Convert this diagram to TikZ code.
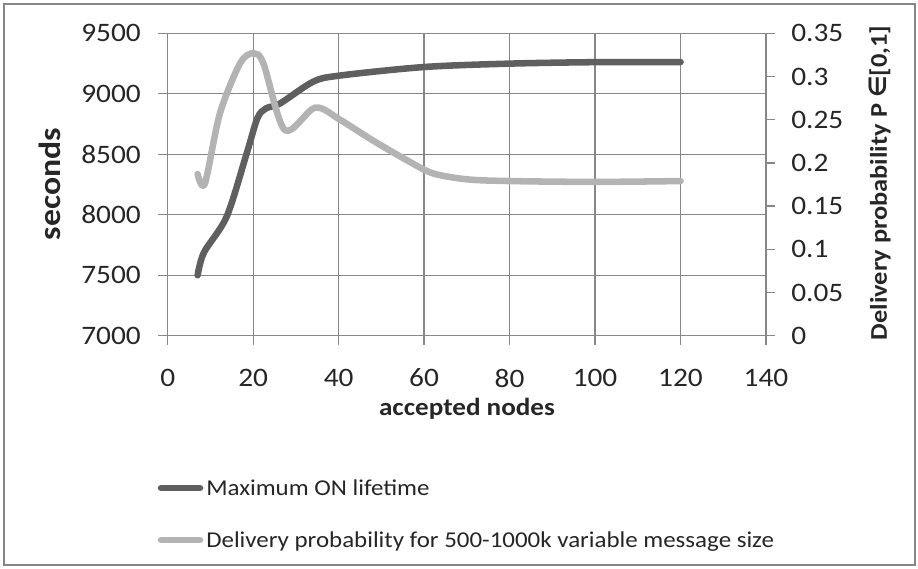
\documentclass[tikz,border=0pt]{standalone}
\usepackage{fontspec}
\setmainfont{Carlito}[FakeStretch=1.1]
\newfontfamily\symfont{DejaVu Sans}
\definecolor{gridgray}{HTML}{878787}
\definecolor{ondark}{HTML}{5F5F5F}
\definecolor{problight}{HTML}{B3B3B3}
\definecolor{labeltext}{HTML}{262626}
\tikzset{
  grid line/.style={gridgray, line width=1pt},
  series/.style={line width=4.9pt, line cap=round, line join=round},
  tick label/.style={text=labeltext, font=\fontsize{20}{24}\selectfont, inner sep=0pt},
  axis title/.style={text=labeltext, font=\bfseries\fontsize{18.5}{22}\selectfont, inner sep=0pt},
  legend label/.style={text=labeltext, font=\fontsize{17}{20}\selectfont, inner sep=0pt, anchor=base west},
}
\begin{document}
\begin{tikzpicture}[x=0.75pt, y=-0.75pt]
\useasboundingbox (0,0) rectangle (918,568);
\draw[gridgray, line width=1pt] (4,4) rectangle (915,565);
% horizontal grid and left labels
\foreach \k [evaluate=\k as \v using int(7000+500*\k)] in {0,...,5}
{
\draw[grid line] (158,{335.7-60.48*\k}) -- (766,{335.7-60.48*\k});
\node[tick label, anchor=east] (sec\k) at (141,{335.7-60.48*\k}) {\v};
}
% vertical grid and bottom labels
\foreach \k [evaluate=\k as \v using int(20*\k)] in {0,...,7}
{
\draw[grid line] ({167.7+85.47*\k},33.3) -- ({167.7+85.47*\k},345);
\node[tick label] (acc\k) at ({167.7+85.47*\k},378) {\v};
}
% right axis ticks and labels
\foreach \k/\p in {0/0,1/0.05,2/0.1,3/0.15,4/0.2,5/0.25,6/0.3,7/0.35}
{
\draw[grid line] (766,{335.7-43.2*\k}) -- (775,{335.7-43.2*\k});
\node[tick label, anchor=west] (prob\k) at (791,{335.7-43.2*\k}) {\p};
}
% axis titles
\node[axis title] (xtitle) at (467,409) {accepted nodes};
\node[axis title, rotate=90, font=\bfseries\fontsize{23}{26}\selectfont] (ytitle) at (50,184) {seconds};
\node[axis title, rotate=90, font=\bfseries\fontsize{18}{22}\selectfont] (ptitle) at (880,183) {Delivery probability P {\symfont\bfseries ∈}[0,1]};
% series
\begin{scope}[shift={(167.7,335.7)}, x=3.2055pt, y=0.09072pt, yshift=-635.04pt]
\draw[series, ondark] plot[smooth, tension=0.5] coordinates {(7,7500) (8.5,7690) (13.8,7985) (18.5,8510) (21,8800) (23,8880) (26.3,8921) (34,9100) (40,9150) (60,9222) (80,9250) (100,9262) (120,9263)};
\end{scope}
\begin{scope}[shift={(167.7,335.7)}, x=3.2055pt, y=648pt]
\draw[series, problight] plot[smooth, tension=0.5] coordinates {(7,0.187) (8.7,0.176) (12.2,0.257) (16.9,0.315) (20,0.327) (22.4,0.315) (27.4,0.238) (34.5,0.264) (40.3,0.25) (48,0.226) (56,0.203) (62,0.188) (70,0.181) (80,0.179) (100,0.178) (120,0.179)};
\end{scope}
% legend
\draw[series, ondark] (161,488) -- (200,488);
\node[legend label] (leg1) at (206,495) {Maximum ON lifetime};
\draw[series, problight] (161,540) -- (200,540);
\node[legend label] (leg2) at (206,547) {Delivery probability for 500-1000k variable message size};
\end{tikzpicture}
\end{document}
